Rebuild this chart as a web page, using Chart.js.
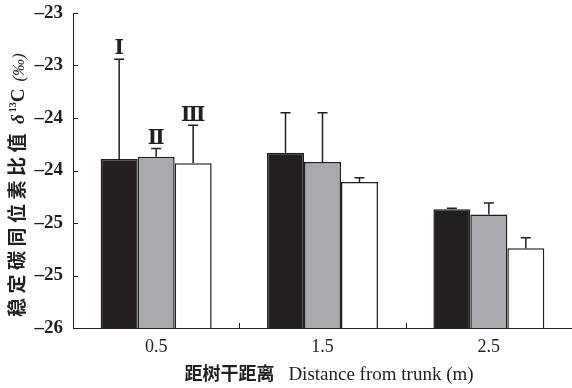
<!DOCTYPE html>
<html>
<head>
<meta charset="utf-8">
<script src="https://cdn.jsdelivr.net/npm/chart.js@4"></script>
<style>
  html, body { margin: 0; padding: 0; background: #fff; }
  #wrap { width: 572px; height: 388px; }
</style>
</head>
<body>
<div id="wrap"><canvas id="isoChart" width="572" height="388"></canvas></div>
<script>
// data
const categories = ['0.5', '1.5', '2.5'];
const seriesNames = ['Ⅰ', 'Ⅱ', 'Ⅲ'];
const valuesI = [-24.39, -24.33, -24.87];
const valuesII = [-24.37, -24.42, -24.92];
const valuesIII = [-24.43, -24.61, -25.24];
const errI = [0.95, 0.38, 0.01];
const errII = [0.08, 0.47, 0.11];
const errIII = [0.36, 0.04, 0.10];
const yTickLabels = ['–23', '–23', '–24', '–24', '–25', '–25', '–26'];

const INK = '#231f20';

// one-sided error bars, inner ticks, roman labels and axis titles
const extras = {
    id: 'extras',
    afterDatasetsDraw(chart) {
        const ctx = chart.ctx;
        const y = chart.scales.y;
        ctx.save();
        ctx.strokeStyle = INK;
        ctx.lineWidth = 1.5;
        chart.data.datasets.forEach((ds, di) => {
            const meta = chart.getDatasetMeta(di);
            meta.data.forEach((bar, i) => {
                const top = y.getPixelForValue(ds.data[i] + ds.err[i]);
                ctx.beginPath();
                ctx.moveTo(bar.x, bar.y);
                ctx.lineTo(bar.x, top);
                ctx.moveTo(bar.x - 5, top);
                ctx.lineTo(bar.x + 5, top);
                ctx.stroke();
                if (i === 0) {
                    ctx.fillStyle = INK;
                    ctx.font = 'bold 20px "DejaVu Serif", "Liberation Serif", serif';
                    ctx.textAlign = 'center';
                    ctx.textBaseline = 'bottom';
                    ctx.fillText(ds.label, bar.x, top);
                }
            });
        });
        ctx.restore();
    },
    afterDraw(chart) {
        const ctx = chart.ctx;
        const x = chart.scales.x, y = chart.scales.y;
        const area = chart.chartArea;
        ctx.save();
        ctx.strokeStyle = INK;
        ctx.lineWidth = 1;
        // y ticks pointing inside
        y.ticks.forEach((t, i) => {
            const py = Math.round(y.getPixelForTick(i)) + 0.5;
            ctx.beginPath();
            ctx.moveTo(area.left, py);
            ctx.lineTo(area.left + 5, py);
            ctx.stroke();
        });
        // x ticks between categories
        for (let i = 1; i < categories.length; i++) {
            const px = Math.round((x.getPixelForTick(i - 1) + x.getPixelForTick(i)) / 2) + 0.5;
            ctx.beginPath();
            ctx.moveTo(px, area.bottom);
            ctx.lineTo(px, area.bottom - 5);
            ctx.stroke();
        }
        ctx.fillStyle = INK;
        // x title
        ctx.textBaseline = 'alphabetic';
        ctx.textAlign = 'left';
        const cn = '距树干距离';
        const en = 'Distance from trunk (m)';
        ctx.font = 'bold 18px "Noto Sans CJK SC", sans-serif';
        const wcn = ctx.measureText(cn).width;
        ctx.font = '19px "Liberation Serif", serif';
        const wen = ctx.measureText(en).width;
        const gap = 14;
        let sx = 329 - (wcn + gap + wen) / 2;
        ctx.font = 'bold 18px "Noto Sans CJK SC", sans-serif';
        ctx.fillText(cn, sx, 380);
        ctx.font = '19px "Liberation Serif", serif';
        ctx.fillText(en, sx + wcn + gap, 380);
        // y title, rotated
        ctx.translate(24, 317);
        ctx.rotate(-Math.PI / 2);
        ctx.font = 'bold 19px "Noto Sans CJK SC", sans-serif';
        ctx.letterSpacing = '4.5px';
        const ycn = '稳定碳同位素比值';
        ctx.fillText(ycn, 0, 0);
        let px = ctx.measureText(ycn).width + 5;
        ctx.letterSpacing = '0px';
        ctx.font = 'italic bold 19px "Liberation Serif", serif';
        ctx.fillText('δ', px, 0);
        px += ctx.measureText('δ').width + 2;
        ctx.font = 'bold 10px "Liberation Serif", serif';
        ctx.fillText('13', px, -8);
        px += ctx.measureText('13').width;
        ctx.font = 'bold 19px "Liberation Serif", serif';
        ctx.fillText('C', px, 0);
        px += ctx.measureText('C').width + 7;
        ctx.font = 'italic 17px "Liberation Serif", serif';
        ctx.fillText('(‰)', px, 0);
        ctx.restore();
    }
};

const seriesColors = ['#231f20', '#a7a9ac', '#ffffff'];
const seriesValues = [valuesI, valuesII, valuesIII];
const seriesErr = [errI, errII, errIII];

const ctx = document.getElementById('isoChart').getContext('2d');
const isoChart = new Chart(ctx, {
    type: 'bar',
    data: {
        labels: categories,
        datasets: seriesNames.map((name, i) => ({
            label: name,
            data: seriesValues[i],
            err: seriesErr[i],
            base: -26,
            backgroundColor: seriesColors[i],
            borderColor: INK,
            borderWidth: 1.5,
            borderSkipped: 'bottom',
            categoryPercentage: 0.667,
            barPercentage: 1
        }))
    },
    options: {
        responsive: false,
        animation: false,
        layout: { padding: { left: 0, top: 13, right: 0, bottom: 0 } },
        plugins: {
            legend: { display: false },
            tooltip: { enabled: false }
        },
        scales: {
            x: {
                grid: { display: false, drawTicks: false },
                border: { display: true, color: INK, width: 1 },
                ticks: {
                    color: INK,
                    padding: 8,
                    font: { family: '"Liberation Serif", serif', size: 18 }
                },
                afterFit: s => { s.height = 60; s.paddingLeft = 0; s.paddingRight = 0; }
            },
            y: {
                min: -26,
                max: -23,
                grid: { display: false, drawTicks: false },
                border: { display: true, color: INK, width: 1 },
                ticks: {
                    stepSize: 0.5,
                    color: INK,
                    padding: 10,
                    font: { family: '"Liberation Serif", serif', size: 19, weight: 'bold' },
                    callback: v => yTickLabels[Math.round((-23 - v) / 0.5)]
                },
                afterFit: s => { s.width = 73; s.paddingTop = 0; s.paddingBottom = 0; }
            }
        }
    },
    plugins: [extras]
});
</script>
</body>
</html>
